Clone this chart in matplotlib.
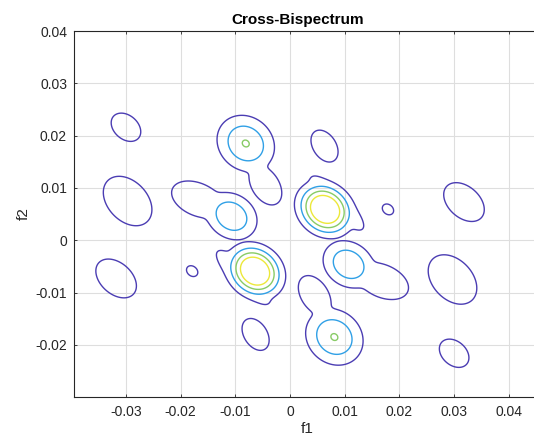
import numpy as np
import matplotlib.pyplot as plt

plt.rcParams["font.family"] = ["Liberation Sans", "DejaVu Sans"]

# Bispectral lobes: centre (f1, f2), height, widths along/across the lobe, tilt in degrees
peak_f1 = [-0.0300, -0.0081, -0.0045, 0.0063, -0.0297, -0.0107, -0.0169, 0.0064, 0.0086, 0.0179, 0.0318,
           0.0300, 0.0081, 0.0045, -0.0063, 0.0297, 0.0107, 0.0169, -0.0064, -0.0086, -0.0179, -0.0318]
peak_f2 = [0.0216, 0.0185, 0.0105, 0.0180, 0.0075, 0.0046, 0.0078, 0.0059, 0.0071, 0.0059, 0.0073,
           -0.0216, -0.0185, -0.0105, -0.0180, -0.0075, -0.0046, -0.0078, -0.0059, -0.0071, -0.0059, -0.0073]
peak_height = [1.6, 3.05, 1.6, 1.6, 1.6, 2.95, 1.6, 6.0, 1.6, 1.2, 1.6,
               1.6, 3.05, 1.6, 1.6, 1.6, 2.95, 1.6, 6.0, 1.6, 1.2, 1.6]
peak_wide = [0.0032, 0.0038, 0.0042, 0.0034, 0.0055, 0.0034, 0.0052, 0.0032, 0.0070, 0.0019, 0.0045,
             0.0032, 0.0038, 0.0042, 0.0034, 0.0055, 0.0034, 0.0052, 0.0032, 0.0070, 0.0019, 0.0045]
peak_narrow = [0.0023, 0.0033, 0.0026, 0.0022, 0.0038, 0.0028, 0.0032, 0.0027, 0.0021, 0.0015, 0.0030,
               0.0023, 0.0033, 0.0026, 0.0022, 0.0038, 0.0028, 0.0032, 0.0027, 0.0021, 0.0015, 0.0030]
peak_tilt = [-45, -50, -60, -60, -50, -40, -25, -45, -47, -45, -45,
             -45, -50, -60, -60, -50, -40, -25, -45, -47, -45, -45]
blend_power = 6

contour_levels = [1, 2, 3, 4]
level_colors = ["#4b3db3", "#30a0e6", "#88cb66", "#ece83a"]

x_ticks = [-0.03, -0.02, -0.01, 0, 0.01, 0.02, 0.03, 0.04]
x_tick_labels = ["-0.03", "-0.02", "-0.01", "0", "0.01", "0.02", "0.03", "0.04"]
y_ticks = [-0.02, -0.01, 0, 0.01, 0.02, 0.03, 0.04]
y_tick_labels = ["-0.02", "-0.01", "0", "0.01", "0.02", "0.03", "0.04"]

# magnitude surface on the (f1, f2) grid, lobes merged with a soft maximum
f1 = np.linspace(-0.0395, 0.0446, 600)
f2 = np.linspace(-0.0299, 0.0400, 500)
F1, F2 = np.meshgrid(f1, f2)
acc = np.zeros_like(F1)
for cx, cy, h, sw, sn, tilt in zip(peak_f1, peak_f2, peak_height, peak_wide, peak_narrow, peak_tilt):
    th = np.deg2rad(tilt)
    du = (F1 - cx) * np.cos(th) + (F2 - cy) * np.sin(th)
    dv = -(F1 - cx) * np.sin(th) + (F2 - cy) * np.cos(th)
    acc += (h * np.exp(-0.5 * ((du / sw) ** 2 + (dv / sn) ** 2))) ** blend_power
bisp = acc ** (1.0 / blend_power)

fig = plt.figure(figsize=(5.34, 4.41), dpi=100)
ax = fig.add_axes([0.1386, 0.1005, 0.8614, 0.8292])

ax.contour(F1, F2, bisp, levels=contour_levels, colors=level_colors, linewidths=1.0)

ax.set_xlim(-0.0395, 0.0446)
ax.set_ylim(-0.0299, 0.0400)
ax.set_xticks(x_ticks)
ax.set_xticklabels(x_tick_labels)
ax.set_yticks(y_ticks)
ax.set_yticklabels(y_tick_labels)
ax.grid(True, color="#dedede", linewidth=0.8)
ax.set_axisbelow(True)

ax.tick_params(direction="in", length=2.5, width=0.6, colors="#262626", labelsize=10,
               top=True, right=False, pad=5)
ax.tick_params(axis="x", pad=6)
for side in ["left", "bottom", "top"]:
    ax.spines[side].set_color("#262626")
    ax.spines[side].set_linewidth(0.8)
ax.spines["right"].set_visible(False)

ax.set_title("Cross-Bispectrum", fontsize=11, fontweight="bold", color="#000000", pad=5, x=0.487)
ax.set_xlabel("f1", fontsize=11, color="#262626", labelpad=2, x=0.507)
ax.set_ylabel("f2", fontsize=11, color="#262626")
ax.yaxis.set_label_coords(-0.093, 0.5)

fig.savefig("out.png", dpi=100)
